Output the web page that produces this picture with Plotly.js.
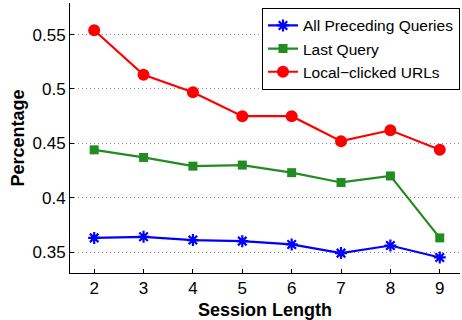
<!DOCTYPE html>
<html>
<head>
<meta charset="utf-8">
<script src="https://cdn.plot.ly/plotly-3.0.1.min.js"></script>
<style>html,body{margin:0;padding:0;background:#fff;}#chart{width:462px;height:320px;}</style>
</head>
<body>
<div id="chart"></div>
<script>
const sessionLength = [2, 3, 4, 5, 6, 7, 8, 9];
const allPrecedingQueries = [0.363, 0.364, 0.361, 0.360, 0.357, 0.349, 0.356, 0.345];
const lastQuery = [0.444, 0.437, 0.429, 0.430, 0.423, 0.414, 0.420, 0.363];
const localClickedURLs = [0.554, 0.513, 0.497, 0.475, 0.475, 0.452, 0.462, 0.444];
const seriesNames = ['All Preceding Queries', 'Last Query', 'Local\u2212clicked URLs'];
const yTickVals = [0.35, 0.4, 0.45, 0.5, 0.55];
const yTickText = ['0.35', '0.4', '0.45', '0.5', '0.55'];

const font = 'Liberation Sans, Arial, Helvetica, sans-serif';
const traces = [
  {x: sessionLength, y: allPrecedingQueries, name: seriesNames[0], mode: 'lines+markers',
   line: {color: '#0000ff', width: 2.2},
   marker: {symbol: 'asterisk-open', size: 10, color: '#0000ff', line: {color: '#0000ff', width: 2.2}}},
  {x: sessionLength, y: lastQuery, name: seriesNames[1], mode: 'lines+markers',
   line: {color: '#228b22', width: 2.2},
   marker: {symbol: 'square', size: 9, color: '#228b22'}},
  {x: sessionLength, y: localClickedURLs, name: seriesNames[2], mode: 'lines+markers',
   line: {color: '#ff0000', width: 2.2},
   marker: {symbol: 'circle', size: 12, color: '#ff0000'}}
];

const layout = {
  width: 462, height: 320,
  margin: {l: 70, r: 2, t: 3, b: 47, pad: 0},
  paper_bgcolor: '#fff', plot_bgcolor: '#fff',
  font: {family: font, size: 17, color: '#000'},
  showlegend: true,
  legend: {x: 1, xanchor: 'right', y: 0.982, yanchor: 'top',
           bgcolor: '#fff', bordercolor: '#000', borderwidth: 1,
           font: {family: font, size: 15.5, color: '#000'},
           tracegroupgap: 0, itemwidth: 30},
  xaxis: {
    range: [1.51, 9.41], tickvals: sessionLength, ticktext: sessionLength.map(String),
    showline: true, linecolor: '#000', linewidth: 1, mirror: false,
    ticks: 'inside', ticklen: 4, tickcolor: '#000', showgrid: false, zeroline: false,
    tickfont: {family: font, size: 17, color: '#000'},
    title: {text: '<b>Session Length</b>', font: {family: font, size: 18, color: '#000'}}
  },
  yaxis: {
    range: [0.3307, 0.5791], tickvals: yTickVals, ticktext: yTickText,
    showline: true, linecolor: '#000', linewidth: 1, mirror: false,
    ticks: 'inside', ticklen: 4, tickcolor: '#000',
    showgrid: true, gridcolor: '#8a8a8a', griddash: '1px,3px', gridwidth: 1, zeroline: false,
    tickfont: {family: font, size: 17, color: '#000'},
    title: {text: '<b>Percentage</b>', font: {family: font, size: 18, color: '#000'}}
  }
};

Plotly.newPlot('chart', traces, layout, {staticPlot: true, displayModeBar: false});
</script>
</body>
</html>
